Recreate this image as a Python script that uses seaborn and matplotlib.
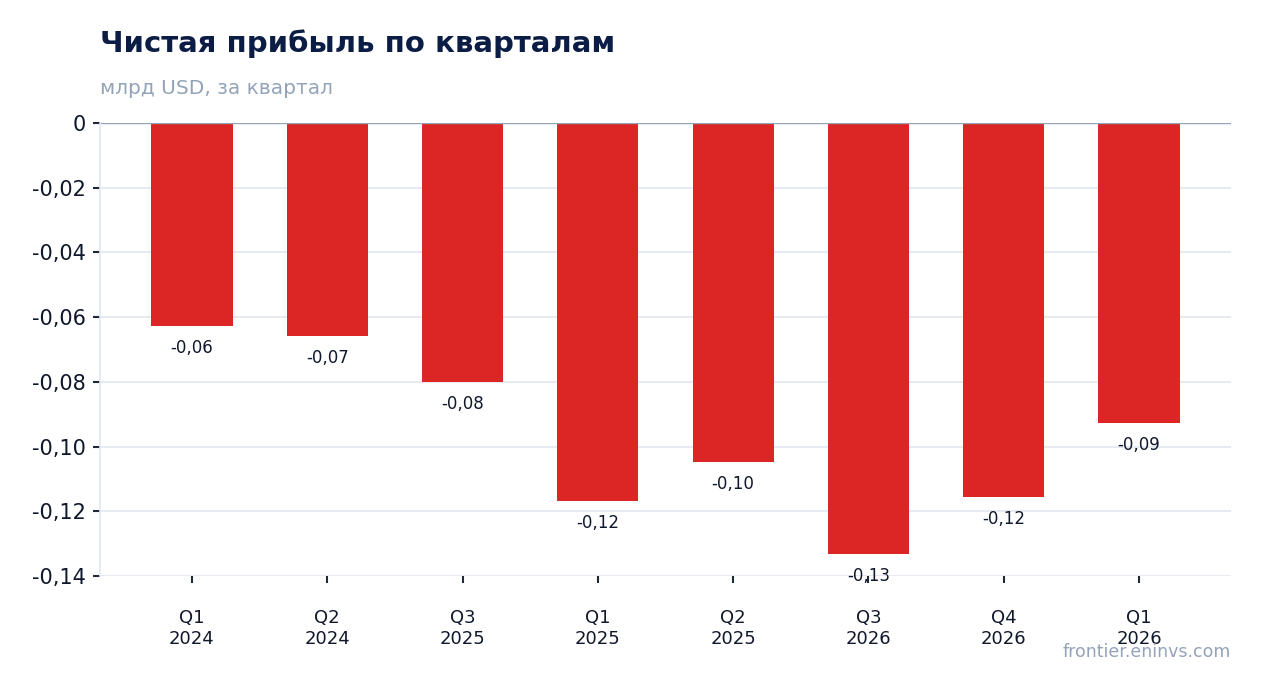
import matplotlib.pyplot as plt
import numpy as np
import pandas as pd
import seaborn as sns

quarters = ["Q1\n2024", "Q2\n2024", "Q3\n2025", "Q1\n2025", "Q2\n2025", "Q3\n2026", "Q4\n2026", "Q1\n2026"]
profit = [-0.0627, -0.0658, -0.0800, -0.1168, -0.1048, -0.1332, -0.1156, -0.0927]
yticks = [0, -0.02, -0.04, -0.06, -0.08, -0.10, -0.12, -0.14]

df = pd.DataFrame({"q": quarters, "v": profit})

sns.set_style("white")
plt.rcParams["font.family"] = ["DejaVu Sans"]

fig = plt.figure(figsize=(12.62, 6.93), dpi=100)
ax = fig.add_axes([100 / 1262, 1 - 576 / 693, 1131 / 1262, 453 / 693])

sns.barplot(data=df, x="q", y="v", color="#dc2626", width=0.6, saturation=1, linewidth=0, ax=ax)

for i, v in enumerate(df["v"]):
    ax.annotate(f"{v:.2f}".replace(".", ","), (i, v), xytext=(0, -16), textcoords="offset points",
                ha="center", va="center", fontsize=12, color="#0f172a")

ax.set_ylim(-0.14, 0)
ax.set_xlim(-0.68, 7.68)
ax.set_yticks(yticks)
ax.set_yticklabels(["0" if t == 0 else f"{t:.2f}".replace(".", ",") for t in yticks])
ax.yaxis.grid(True, color="#e2e8f0", linewidth=1.2)
ax.set_axisbelow(True)
ax.axhline(0, color="#94a3b8", linewidth=1)
for s in ["top", "right", "bottom"]:
    ax.spines[s].set_visible(False)
ax.spines["left"].set_color("#e2e8f0")
ax.spines["left"].set_linewidth(1.2)
ax.tick_params(axis="y", left=True, length=5, width=1.5, color="#1e293b", labelsize=15,
               labelcolor="#0f172a", pad=5)
ax.tick_params(axis="x", bottom=True, length=5, width=1.5, color="#1e293b", labelsize=13,
               labelcolor="#0f172a", pad=19)
ax.set_xlabel("")
ax.set_ylabel("")

fig.text(100 / 1262, 1 - 44 / 693, "Чистая прибыль по кварталам", fontsize=21, fontweight="bold",
         color="#0b1d45", va="center", ha="left")
fig.text(100 / 1262, 1 - 88 / 693, "млрд USD, за квартал", fontsize=14.5, color="#94a3b8",
         va="center", ha="left")
fig.text(1231 / 1262, 1 - 652 / 693, "frontier.eninvs.com", fontsize=12.5, color="#94a3b8",
         va="center", ha="right")

fig.savefig("out.png", dpi=100)
